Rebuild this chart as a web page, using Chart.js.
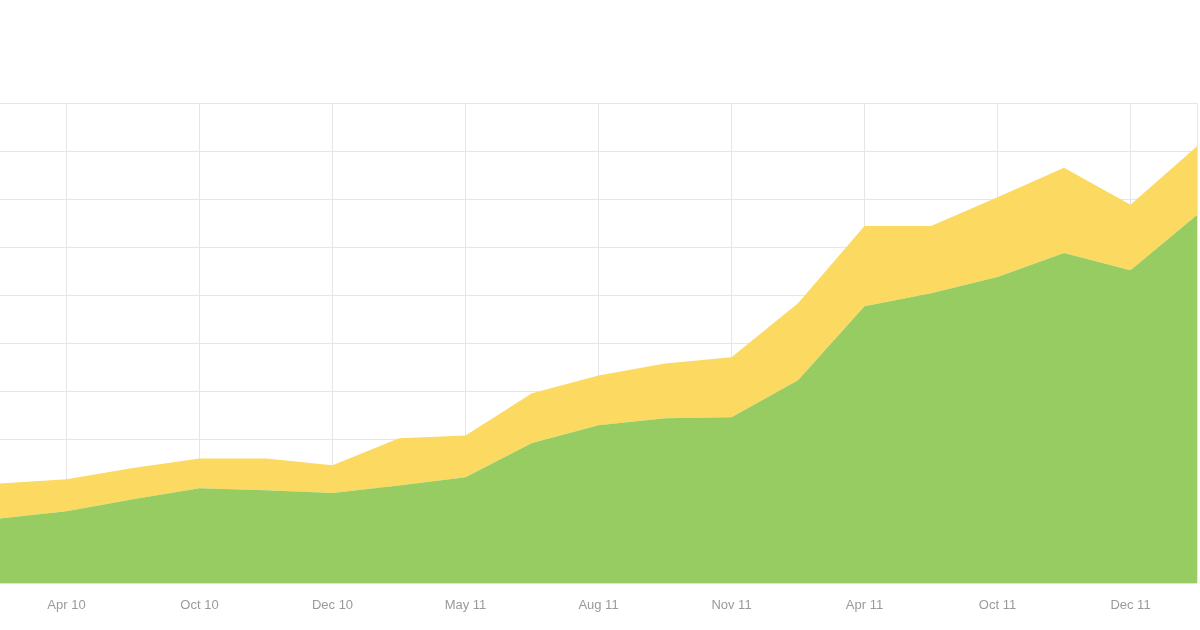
<!DOCTYPE html>
<html>
<head>
<meta charset="utf-8">
<script src="https://cdn.jsdelivr.net/npm/chart.js@4"></script>
<style>
  html, body { margin: 0; padding: 0; background: #ffffff; }
  #wrap { width: 1200px; height: 630px; }
</style>
</head>
<body>
<div id="wrap"><canvas id="c" width="1200" height="630"></canvas></div>
<script>
// Tick labels shown under the vertical gridlines
const tickLabels = ['Apr 10', 'Oct 10', 'Dec 10', 'May 11', 'Aug 11', 'Nov 11', 'Apr 11', 'Oct 11', 'Dec 11'];
// Bottom (green) series
const greenValues = [13.5, 15, 17.5, 19.8, 19.4, 18.8, 20.4, 22.1, 29.2, 32.9, 34.4, 34.6, 42.3, 57.7, 60.4, 63.8, 68.8, 65.2, 76.7];
// Top (yellow) series, stacked on green
const yellowValues = [7.3, 6.7, 6.5, 6.2, 6.6, 5.8, 9.8, 8.7, 10.4, 10.4, 11.4, 12.5, 16.0, 16.7, 14.0, 16.6, 17.7, 13.6, 14.3];

const categories = greenValues.map((v, i) => (i % 2 === 1 ? tickLabels[(i - 1) / 2] : ''));

new Chart(document.getElementById('c'), {
  type: 'line',
  data: {
    labels: categories,
    datasets: [
      {
        data: greenValues,
        backgroundColor: '#96cc62',
        borderWidth: 0,
        pointRadius: 0,
        fill: 'origin',
        tension: 0
      },
      {
        data: yellowValues,
        backgroundColor: '#fcd960',
        borderWidth: 0,
        pointRadius: 0,
        fill: '-1',
        tension: 0
      }
    ]
  },
  options: {
    responsive: false,
    animation: false,
    layout: { padding: { top: 103, right: 3, left: 0, bottom: 3 } },
    plugins: { legend: { display: false }, tooltip: { enabled: false } },
    scales: {
      x: {
        offset: false,
        border: { display: false },
        grid: {
          drawTicks: false,
          color: (ctx) => (ctx.index % 2 === 1 || ctx.index === greenValues.length - 1) ? '#e6e6e6' : 'rgba(0,0,0,0)',
          lineWidth: 1
        },
        ticks: {
          autoSkip: false,
          maxRotation: 0,
          padding: 14,
          color: '#9a9a9a',
          font: { family: 'Liberation Sans, Arial, sans-serif', size: 13 }
        },
        afterFit: (scale) => { scale.paddingLeft = 0; scale.paddingRight = 0; }
      },
      y: {
        stacked: true,
        min: 0,
        max: 100,
        border: { display: false },
        grid: { drawTicks: false, color: '#e6e6e6', lineWidth: 1 },
        ticks: { display: false, stepSize: 10 },
        afterFit: (scale) => { scale.width = 0; scale.paddingTop = 0; scale.paddingBottom = 0; }
      }
    }
  }
});
</script>
</body>
</html>
